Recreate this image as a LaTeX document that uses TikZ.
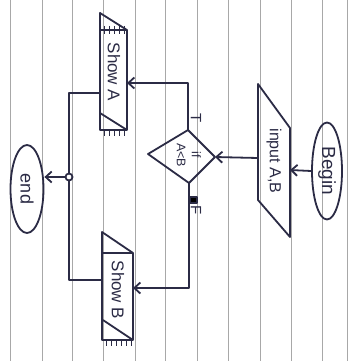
\documentclass[tikz,border=0pt]{standalone}
\usepackage{fontspec}
\setmainfont{Liberation Sans}
\usetikzlibrary{shapes.geometric,arrows.meta}
\definecolor{ink}{HTML}{2B2B45}
\definecolor{rule}{HTML}{A8A8A8}
\tikzset{
  ink/.style={draw=ink, line width=1.8pt, line join=round},
  conn/.style={ink, -{Straight Barb[length=6pt,width=11pt]}},
  plain/.style={ink},
  term/.style={ellipse, ink, rotate=-90, inner sep=0pt, text=ink},
  lbl/.style={rotate=-90, text=ink, inner sep=0pt, align=center},
  ruleline/.style={draw=rule, line width=0.8pt}
}
\begin{document}
\begin{tikzpicture}[x=1pt,y=-1pt]
\useasboundingbox (0,0) rectangle (350,361);
\fill[white] (0,0) rectangle (350,361);
% ruled notebook lines
\foreach \xx in {10,42,72,103,135,165,197,228,260,291,322,347}
  \draw[ruleline] (\xx,0) -- (\xx,361);

% Begin
\node[term, minimum width=97pt, minimum height=30pt, font=\fontsize{19}{21}\selectfont] (begin) at (327,171) {Begin};
% input parallelogram
\draw[plain] (258,84) -- (290,128) -- (290,237) -- (258,200) -- cycle;
\node[lbl, font=\fontsize{16}{18}\selectfont] (input) at (274,161) {input A,B};
\coordinate (inR) at (290,170);
\coordinate (inL) at (258,158);

% decision diamond
\coordinate (dT) at (188,130);
\coordinate (dR) at (215,157);
\coordinate (dB) at (189,183);
\coordinate (dL) at (148,154);
\draw[plain] (dT) -- (dR) -- (dB) -- (dL) -- cycle;
\node[lbl, font=\fontsize{12.5}{15}\selectfont] (cond) at (189,155) {if\\A<B};

% Show A
\draw[plain] (100,13) -- (127,30) -- (127,130) -- (100,130) -- cycle;
\draw[plain] (100,30) -- (127,30);
\draw[plain] (100,113) -- (127,130);
\foreach \hx in {104,109,114,119,124} {
  \draw[ink, line width=1pt] (\hx,26) -- (\hx,34);
  \draw[ink, line width=1pt] (\hx,130) -- (\hx,136);
}
\node[lbl, font=\fontsize{17}{19}\selectfont] (showA) at (114,72) {Show A};
\coordinate (showAR) at (127,83);
\coordinate (showAL) at (100,93);

% Show B
\draw[plain] (102,232) -- (133,253) -- (133,340) -- (102,340) -- cycle;
\draw[plain] (102,253) -- (133,253);
\draw[plain] (103,320) -- (133,340);
\foreach \hx in {106,111,116,121,126,131}
  \draw[ink, line width=1pt] (\hx,340) -- (\hx,346);
\node[lbl, font=\fontsize{17}{19}\selectfont] (showB) at (118,290) {Show B};
\coordinate (showBR) at (133,288);
\coordinate (showBL) at (102,280);

% junction and end
\node[circle, ink, fill=white, minimum size=7pt, inner sep=0pt] (junc) at (69,177) {};
\node[term, minimum width=88pt, minimum height=33pt, font=\fontsize{18}{20}\selectfont] (end) at (27,189) {end};

% connectors
\draw[conn] (begin.south) -- (inR);
\draw[conn] (inL) -- (dR);
\draw[conn] (dT) |- (showAR);
\draw[conn] (dB) |- (showBR);
\draw[plain] (showAL) -| (junc);
\draw[plain] (showBL) -| (junc);
\draw[conn] (junc) -- (end.north |- junc);

% branch labels
\node[lbl, font=\fontsize{15}{17}\selectfont] (tl) at (196,118) {T};
\node[lbl, font=\fontsize{15}{17}\selectfont] (fl) at (196,210) {F};
\fill[ink] (190,197) rectangle (197,203);
\end{tikzpicture}
\end{document}
